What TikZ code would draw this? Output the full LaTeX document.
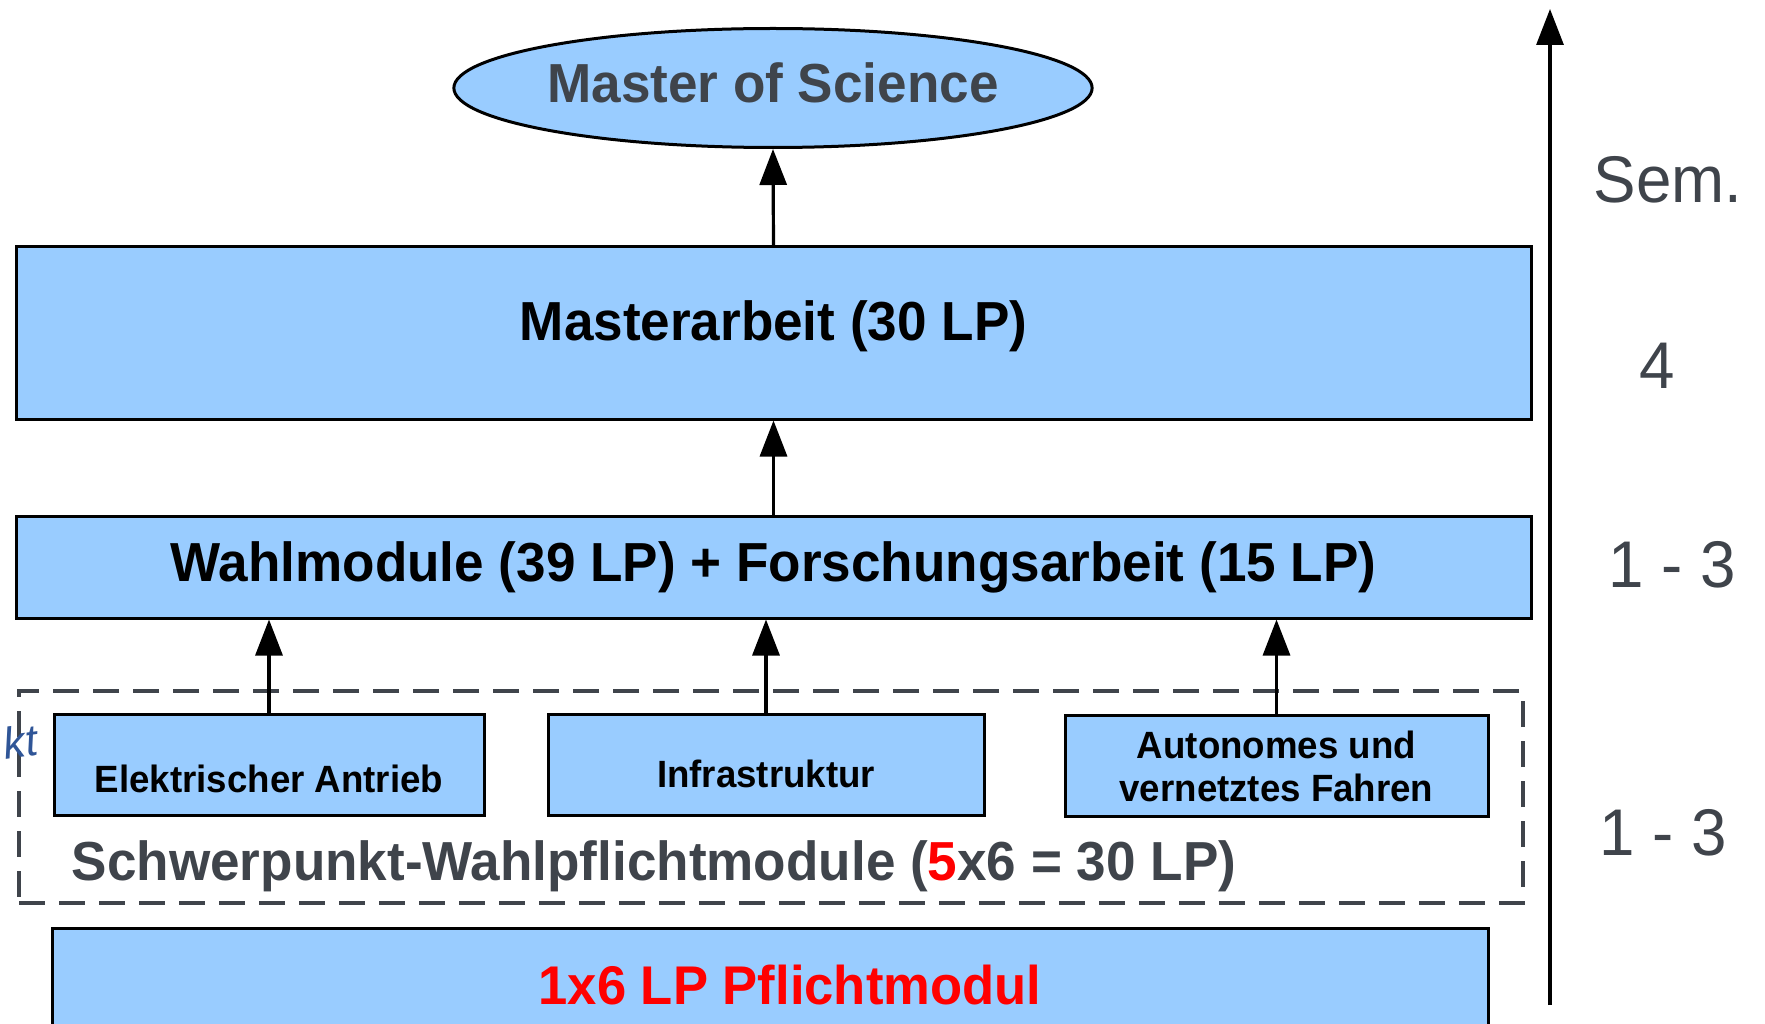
\documentclass[tikz,border=0pt]{standalone}
\usepackage{fontspec}
\setmainfont{Liberation Sans}
\newfontfamily\diafont[FakeStretch=0.965]{Liberation Sans}
\usetikzlibrary{shapes.geometric,arrows.meta}
\definecolor{boxblue}{HTML}{99CCFF}
\definecolor{textgray}{HTML}{3F444B}
\definecolor{inkblue}{HTML}{2F5597}

\begin{document}
\begin{tikzpicture}[x=1pt, y=-1pt,
        box/.style={draw=black, line width=3pt, fill=boxblue, inner sep=0pt, align=center},
        upline/.style={-{Triangle[length=36pt,width=27pt]}, line width=3.2pt},
        bigbold/.style={font=\diafont\bfseries\fontsize{55}{60}\selectfont},
        smallbold/.style={font=\diafont\bfseries\fontsize{38}{43}\selectfont},
        semlabel/.style={text=textgray, font=\diafont\fontsize{66}{70}\selectfont}]
        \useasboundingbox (0,0) rectangle (1765,1024);

        % Degree at the top
        \node[box, ellipse, minimum width=637, minimum height=119, bigbold, text=textgray, text height=40pt, text depth=10pt] (msc) at (773,88) {Master of Science};

        % Thesis and elective modules
        \node[box, minimum width=1515, minimum height=172, bigbold, text height=40pt, text depth=24pt] (arbeit) at (773.5,333) {Masterarbeit (30 LP)};
        \node[box, minimum width=1515, minimum height=102, bigbold] (wahl) at (773.5,567) {Wahlmodule (39 LP) + Forschungsarbeit (15 LP)};

        % Focus areas (dashed group)
        \node[draw=textgray, dash pattern=on 26pt off 14pt, line width=4pt, minimum width=1504, minimum height=212, inner sep=0pt] (swp) at (771,797) {};
        \node[box, minimum width=430, minimum height=101, smallbold, text height=55pt, text depth=0pt] (elek) at (269,764.5) {Elektrischer Antrieb};
        \node[box, minimum width=436, minimum height=101, smallbold, text height=46pt, text depth=0pt] (infra) at (766,764.5) {Infrastruktur};
        \node[box, minimum width=423, minimum height=101, smallbold] (auto) at (1276.5,766) {Autonomes und\\vernetztes Fahren};
        \node[bigbold, text=textgray] (swptext) at (654,866) {Schwerpunkt-Wahlpflichtmodule ({\color{red}5}x6 = 30 LP)};
        \node[text=inkblue, rotate=8, anchor=west, inner sep=0pt, font=\itshape\fontsize{44}{48}\selectfont] (kt) at (3,744) {kt};

        % Compulsory module (cut at the bottom)
        \node[box, minimum width=1436, minimum height=114] (pflicht) at (770,985) {};
        \node[text=red, font=\diafont\bfseries\fontsize{54.5}{60}\selectfont] (pflichttext) at (790,985) {1x6 LP Pflichtmodul};

        % Arrows between levels
        \draw[upline] (arbeit.north) -- (msc.south);
        \draw[upline] (wahl.north) -- (arbeit.south);
        \draw[upline] (elek.north) -- (elek.north |- wahl.south);
        \draw[upline] (infra.north) -- (infra.north |- wahl.south);
        \draw[upline] (auto.north) -- (auto.north |- wahl.south);

        % Semester axis
        \coordinate (axisbot) at (1550,1005);
        \coordinate (axistop) at (1550,9);
        \draw[upline] (axisbot) -- (axistop);
        \node[semlabel] (sem) at (1668,180) {Sem.};
        \node[semlabel] (semfour) at (1657,366) {4};
        \node[semlabel] (semwahl) at (1672,565) {1 - 3};
        \node[semlabel] (semswp) at (1663,833) {1 - 3};
\end{tikzpicture}
\end{document}
